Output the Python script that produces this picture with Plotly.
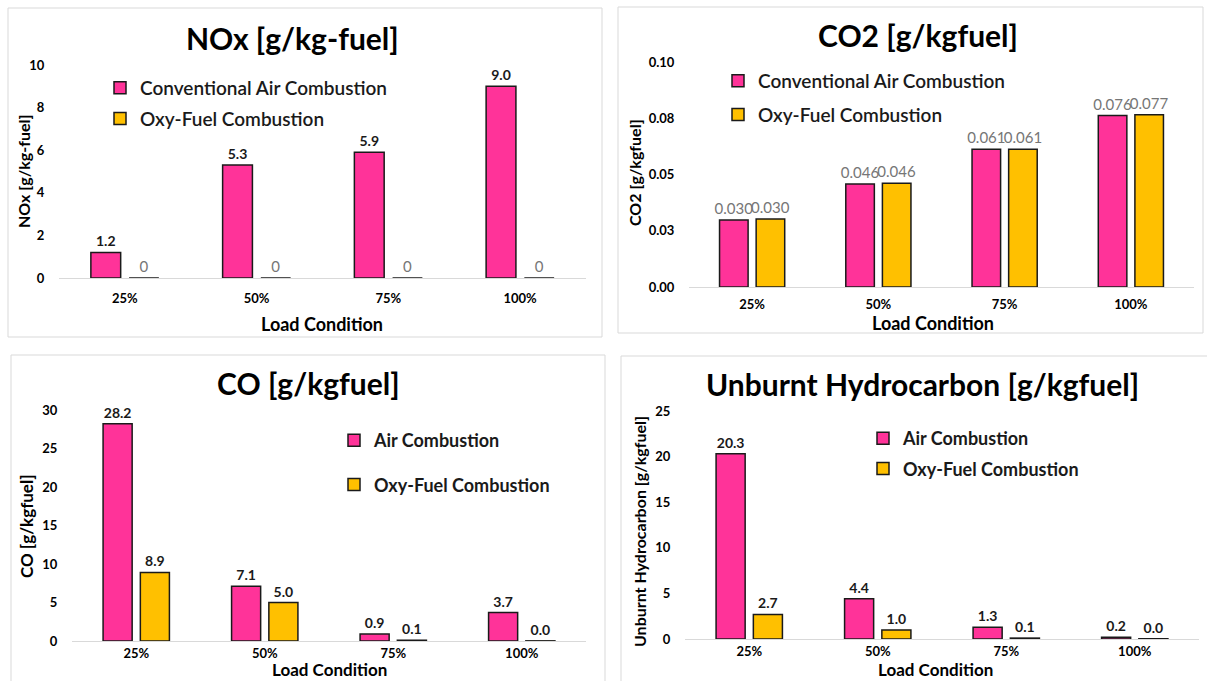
import plotly.graph_objects as go

W, H = 1207, 681

categories = ["25%", "50%", "75%", "100%"]

nox_air = [1.2, 5.3, 5.9, 9.0]
nox_oxy = [0, 0, 0, 0]

co2_air = [0.0298, 0.0458, 0.0612, 0.0762]
co2_oxy = [0.0302, 0.0461, 0.0612, 0.0766]

co_air = [28.2, 7.1, 0.9, 3.7]
co_oxy = [8.9, 5.0, 0.1, 0.02]

uhc_air = [20.3, 4.4, 1.3, 0.2]
uhc_oxy = [2.7, 1.0, 0.1, 0.03]

co2_tickvals = [0, 0.025, 0.05, 0.075, 0.1]
co2_ticktext = ["0.00", "0.03", "0.05", "0.08", "0.10"]

PINK = "#FF3399"
GOLD = "#FFC000"
FONT = "Lato"


def px(x):
    return x / W


def py(y):
    return 1 - y / H


fig = go.Figure()


def add_bar(name, xs, ys, color, xa, ya, legend, group, tmpl, tfont):
    fig.add_trace(go.Bar(
        name=name, x=xs, y=ys, xaxis=xa, yaxis=ya,
        marker=dict(color=color, line=dict(color="#1a1a1a", width=1.5)),
        texttemplate=tmpl, textposition="outside", textfont=tfont,
        constraintext="none", cliponaxis=False, legend=legend, legendgroup=group,
    ))


bold_lbl = dict(family=FONT, size=14, color="#1a1a1a", weight="bold")
gray_lbl = dict(family=FONT, size=15, color="#767676")

add_bar("Conventional Air Combustion", categories, nox_air, PINK, "x", "y", "legend", "a1", "%{y:.1f}", bold_lbl)
add_bar("Oxy-Fuel Combustion", categories, nox_oxy, GOLD, "x", "y", "legend", "b1", "%{y:.0f}", gray_lbl)
add_bar("Conventional Air Combustion", categories, co2_air, PINK, "x2", "y2", "legend2", "a2", "%{y:.3f}", gray_lbl)
add_bar("Oxy-Fuel Combustion", categories, co2_oxy, GOLD, "x2", "y2", "legend2", "b2", "%{y:.3f}", gray_lbl)
add_bar("Air Combustion", categories, co_air, PINK, "x3", "y3", "legend3", "a3", "%{y:.1f}", bold_lbl)
add_bar("Oxy-Fuel Combustion", categories, co_oxy, GOLD, "x3", "y3", "legend3", "b3", "%{y:.1f}", bold_lbl)
add_bar("Air Combustion", categories, uhc_air, PINK, "x4", "y4", "legend4", "a4", "%{y:.1f}", bold_lbl)
add_bar("Oxy-Fuel Combustion", categories, uhc_oxy, GOLD, "x4", "y4", "legend4", "b4", "%{y:.1f}", bold_lbl)

tickfont = dict(family=FONT, size=13, color="#000000", weight="bold")


def xaxis(x0, x1, y_anchor, tl=9):
    return dict(domain=[px(x0), px(x1)], anchor=y_anchor, showline=True,
                linecolor="#D9D9D9", linewidth=1, showgrid=False, zeroline=False,
                ticks="outside" if tl > 0 else "", ticklen=tl, tickcolor="rgba(0,0,0,0)",
                tickfont=tickfont, fixedrange=True, automargin=False)


def yaxis(ytop, ybot, rng, x_anchor, **kw):
    d = dict(domain=[py(ybot), py(ytop)], anchor=x_anchor, range=rng,
             showline=False, showgrid=False, zeroline=False,
             ticks="outside", ticklen=11, tickcolor="rgba(0,0,0,0)",
             tickfont=tickfont, fixedrange=True, automargin=False)
    d.update(kw)
    return d


fig.update_layout(
    width=W, height=H, margin=dict(l=0, r=0, t=0, b=0, pad=0, autoexpand=False),
    paper_bgcolor="white", plot_bgcolor="white",
    barmode="group", bargap=0.42, bargroupgap=0.22,
    font=dict(family=FONT, color="#000000"),
    xaxis=xaxis(59, 586, "y", 8),
    yaxis=yaxis(65, 278, [0, 10], "x", dtick=2),
    xaxis2=xaxis(689, 1194, "y2", 5),
    yaxis2=yaxis(62, 287, [0, 0.1], "x2", tickvals=co2_tickvals, ticktext=co2_ticktext),
    xaxis3=xaxis(72, 586, "y3", 0),
    yaxis3=yaxis(410, 641, [0, 30], "x3", dtick=5),
    xaxis4=xaxis(685, 1199, "y4", 0),
    yaxis4=yaxis(411, 639, [0, 25], "x4", dtick=5),
)

legend_common = dict(bgcolor="rgba(0,0,0,0)", borderwidth=0, traceorder="grouped",
                     xanchor="left", yanchor="top", itemclick=False, itemdoubleclick=False)
fig.update_layout(
    legend=dict(x=px(100), y=py(69), tracegroupgap=3,
                font=dict(family=FONT, size=19, color="#1a1a1a", weight=600), **legend_common),
    legend2=dict(x=px(718), y=py(62), tracegroupgap=6,
                 font=dict(family=FONT, size=19, color="#1a1a1a", weight=600), **legend_common),
    legend3=dict(x=px(334), y=py(422), tracegroupgap=18,
                 font=dict(family=FONT, size=18, color="#1a1a1a", weight="bold"), **legend_common),
    legend4=dict(x=px(863), y=py(420), tracegroupgap=4,
                 font=dict(family=FONT, size=18, color="#1a1a1a", weight="bold"), **legend_common),
)

# panel borders
panels = [(8, 8, 602, 337), (618, 7, 1203, 333), (11, 355, 605, 690), (621, 356, 1212, 690)]
shapes = []
for x0, y0, x1, y1 in panels:
    shapes.append(dict(type="rect", xref="paper", yref="paper",
                       x0=px(x0), x1=px(x1), y0=py(y1), y1=py(y0),
                       line=dict(color="#D9D9D9", width=1), fillcolor="rgba(0,0,0,0)", layer="below"))
fig.update_layout(shapes=shapes)

ann = []
titles = [("NOx [g/kg-fuel]", 292, 38), ("CO2 [g/kgfuel]", 918, 35),
          ("CO [g/kgfuel]", 308, 383), ("Unburnt Hydrocarbon [g/kgfuel]", 922, 384)]
for t, x, y in titles:
    ann.append(dict(text=t, x=px(x), y=py(y), xref="paper", yref="paper", showarrow=False,
                    xanchor="center", yanchor="middle",
                    font=dict(family=FONT, size=30, color="#000000", weight="bold")))

ytitles = [("NOx [g/kg-fuel]", 24, 172, 16), ("CO2 [g/kgfuel]", 635, 173, 16),
           ("CO [g/kgfuel]", 26, 527, 17), ("Unburnt Hydrocarbon [g/kgfuel]", 639, 532, 16)]
for t, x, y, s in ytitles:
    ann.append(dict(text=t, x=px(x), y=py(y), xref="paper", yref="paper", showarrow=False,
                    xanchor="center", yanchor="middle", textangle=-90,
                    font=dict(family=FONT, size=s, color="#000000", weight="bold")))

xtitles = [(322, 324, "middle", 18), (933, 323, "middle", 18),
           (329, 681, "bottom", 17), (935, 681, "bottom", 17)]
for x, y, anc, s in xtitles:
    ann.append(dict(text="Load Condition", x=px(x), y=py(y), xref="paper", yref="paper",
                    showarrow=False, xanchor="center", yanchor=anc, borderpad=0,
                    font=dict(family=FONT, size=s, color="#000000", weight="bold")))
fig.update_layout(annotations=ann)

fig.write_html(
    "out.html",
    config={"displayModeBar": False},
    post_script="document.body.style.margin='0';document.body.style.padding='0';"
                "document.body.style.overflow='hidden';",
)
